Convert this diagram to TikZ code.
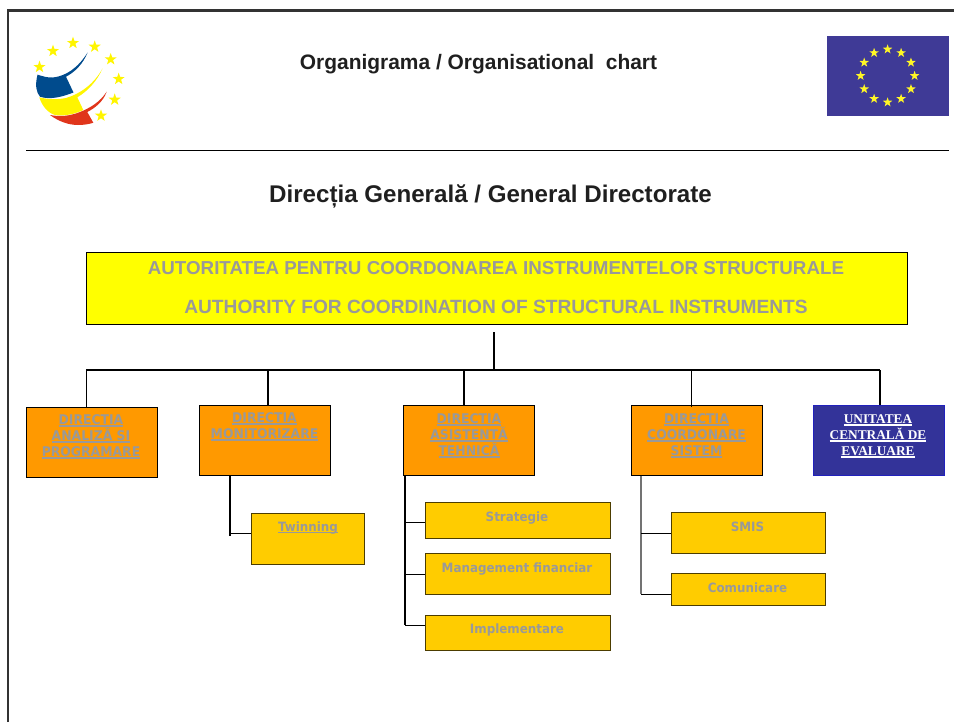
\documentclass[tikz,border=0pt]{standalone}
\usepackage{fontspec}
\setmainfont{Liberation Sans}
\newfontfamily\serifbold{Liberation Serif}
\newfontfamily\boxfont[FakeStretch=0.93]{DejaVu Sans}
\usetikzlibrary{shapes.geometric}
\definecolor{frameC}{HTML}{333333}
\definecolor{orangeC}{HTML}{FF9900}
\definecolor{goldC}{HTML}{FFCC00}
\definecolor{blueC}{HTML}{333399}
\definecolor{flagC}{HTML}{3F3A96}
\definecolor{grayT}{HTML}{999999}
\definecolor{logoB}{HTML}{004B8D}
\definecolor{logoY}{HTML}{FFF500}
\definecolor{logoR}{HTML}{E0351B}
\definecolor{pureY}{HTML}{FFFF00}
\newcommand{\ulbox}[1]{\setbox0\hbox{#1}\leavevmode\rlap{\rule[-1.8pt]{\wd0}{1.3pt}}\box0}
\tikzset{
  x=0.75pt,y=-0.75pt,
  orgbox/.style={draw=black,line width=0.75pt,inner sep=0pt,minimum width=98.5pt,minimum height=52.5pt},
  dirbox/.style={orgbox,fill=orangeC},
  subbox/.style={draw=black!70!goldC,line width=0.75pt,inner sep=0pt,fill=goldC},
  lbl/.style={inner sep=0pt,text=grayT,font=\boxfont\bfseries\fontsize{10pt}{12pt}\selectfont,align=center},
  sublbl/.style={inner sep=0pt,text=grayT,anchor=base,font=\boxfont\bfseries\fontsize{9.6pt}{12pt}\selectfont},
  toplbl/.style={inner sep=0pt,text=grayT,font=\bfseries\fontsize{#1}{16pt}\selectfont},
  heavy/.style={line width=1.5pt,black},
  light/.style={line width=0.7pt,black},
  ystar/.style={star,star points=5,star point ratio=2.5,fill=#1,inner sep=0pt,minimum size=9.5pt},
  fstar/.style={star,star points=5,star point ratio=2.5,fill=#1,inner sep=0pt,minimum size=7.5pt},
}
\begin{document}
\begin{tikzpicture}
\useasboundingbox (0,0) rectangle (954,722);
% frame
\draw[frameC,line width=2.2pt] (8,722) -- (8,10.5) -- (954,10.5);
\draw[black,line width=0.75pt] (26,150.5) -- (949,150.5);
% logo
\fill[logoB] (87.7,52.3) .. controls (78,68) and (66,76) .. (53,77.5) .. controls (48,78) and (42,76) .. (37.5,74.7)
  .. controls (35,85) and (36,92) .. (40,96.7) .. controls (50,100) and (62,97) .. (73.5,92.5) -- (66,76.7)
  .. controls (75,72) and (83,64) .. cycle;
\fill[logoY] (102.7,68.3) .. controls (94,84) and (80,94) .. (66,98) .. controls (56,100) and (46,99) .. (39.3,97.3)
  .. controls (42,106) and (48,113) .. (55,115) .. controls (64,116.5) and (75,114) .. (83.3,110) -- (77.3,97.3)
  .. controls (88,91) and (97,81) .. cycle;
\fill[logoR] (106.7,91.7) .. controls (100,102) and (90,108) .. (80,112) .. controls (70,116) and (60,117) .. (50,115)
  .. controls (58,121) and (68,125) .. (78,125) .. controls (84,125) and (90,124) .. (93.3,122.7) -- (87.3,112)
  .. controls (95,108) and (103,102) .. cycle;
\foreach \n/\p in {1/{39.5,67},2/{53,51},3/{73,43},4/{94.7,46.7},5/{110.7,59.3},6/{118.7,79},7/{114.7,99.7},8/{101,115.7}}
  \node[ystar=logoY] (logostar\n) at (\p) {};
% flag
\fill[flagC] (827,36) rectangle (949,116);
\foreach \n in {1,...,12}
  \node[fstar=logoY!85!white] (flagstar\n) at ({887.6+27*cos(30*\n)},{75.8+26.5*sin(30*\n)}) {};
% titles
\node[inner sep=0pt,text=black!88,font=\bfseries\fontsize{15.7pt}{18pt}\selectfont] (title1) at (478.5,64) {Organigrama / Organisational\ \ chart};
\node[inner sep=0pt,text=black!88,font=\bfseries\fontsize{18.1pt}{21pt}\selectfont] (title2) at (490.5,196) {Direcția Generală / General Directorate};
% main box
\node[draw=black,line width=0.75pt,fill=pureY,minimum width=616pt,minimum height=54pt,inner sep=0pt] (main) at (497,288) {};
\node[toplbl=14.07pt] (mainA) at (496,268) {AUTORITATEA PENTRU COORDONAREA INSTRUMENTELOR STRUCTURALE};
\node[toplbl=14.37pt] (mainB) at (496,307) {AUTHORITY FOR COORDINATION OF STRUCTURAL INSTRUMENTS};
% directorates
\node[dirbox] (dirA) at (92,442.5) {};
\node[dirbox] (dirB) at (264.75,440) {};
\node[dirbox] (dirC) at (469,440) {};
\node[dirbox] (dirD) at (697,440) {};
\node[orgbox,draw=blue!35!blueC,fill=blueC] (dirE) at (879,440) {};
\node[lbl] (dirAt) at (91,437) {\ulbox{DIRECȚIA}\\\ulbox{ANALIZĂ ȘI}\\\ulbox{PROGRAMARE}};
\node[lbl,anchor=north] (dirBt) at (264.5,412) {\ulbox{DIRECTIA}\\\ulbox{MONITORIZARE}};
\node[lbl] (dirCt) at (469,435.5) {\ulbox{DIRECȚIA}\\\ulbox{ASISTENȚĂ}\\\ulbox{TEHNICĂ}};
\node[lbl] (dirDt) at (696.5,435.5) {\ulbox{DIRECTIA}\\\ulbox{COORDONARE}\\\ulbox{SISTEM}};
\node[inner sep=0pt,text=white,align=center,font=\serifbold\bfseries\fontsize{10pt}{12pt}\selectfont] (dirEt) at (878,436) {\ulbox{UNITATEA}\\\ulbox{CENTRALĂ DE}\\\ulbox{EVALUARE}};
% sub boxes
\node[subbox,minimum width=85pt,minimum height=38.25pt] (twin) at (308.25,538.5) {};
\node[sublbl] (twint) at (308,531) {\ulbox{Twinning}};
\node[subbox,minimum width=138.75pt,minimum height=26.75pt] (strat) at (518,520.2) {};
\node[sublbl] (stratt) at (517,521) {Strategie};
\node[subbox,minimum width=138.75pt,minimum height=30.75pt] (mgmt) at (518,573.8) {};
\node[sublbl] (mgmtt) at (517,572) {Management financiar};
\node[subbox,minimum width=138.75pt,minimum height=26.75pt] (impl) at (518,632.9) {};
\node[sublbl] (implt) at (517,633) {Implementare};
\node[subbox,minimum width=115.75pt,minimum height=30.75pt] (smis) at (748.25,533) {};
\node[sublbl] (smist) at (747.5,531) {SMIS};
\node[subbox,minimum width=115.75pt,minimum height=23.75pt] (com) at (748.25,589.2) {};
\node[sublbl] (comt) at (747.5,592) {Comunicare};
% bus
\coordinate (stem) at (494,332);
\coordinate (bus) at (494,370);
\coordinate (busL) at (86,370);
\coordinate (busB) at (268,370);
\coordinate (busC) at (464,370);
\coordinate (busD) at (691,370);
\coordinate (busE) at (880,370);
\draw[heavy] (stem) -- (bus);
\draw[heavy] (busL) -- (busE);
\draw[light] (busL) -- (busL |- dirA.north);
\draw[heavy] (busB) -- (busB |- dirB.north);
\draw[heavy] (busC) -- (busC |- dirC.north);
\draw[light] (busD) -- ([yshift=-1.5pt]busD |- dirD.north);
\draw[heavy] (busE) -- (busE |- dirE.north);
% children of B
\coordinate (tB) at (230,536);
\coordinate (jB) at (230,533.5);
\draw[heavy] (tB |- dirB.south) -- (tB);
\draw[light] (jB) -- (jB -| twin.west);
% children of C
\coordinate (tC) at (405,625.3);
\coordinate (jC1) at (405,522.3);
\coordinate (jC2) at (405,574.3);
\draw[heavy] (tC |- dirC.south) -- (tC);
\draw[light] (jC1) -- (jC1 -| strat.west);
\draw[light] (jC2) -- (jC2 -| mgmt.west);
\draw[light] (tC) -- (tC -| impl.west);
% children of D
\coordinate (tD) at (641,594);
\coordinate (jD) at (641,533);
\draw[line width=0.9pt,black!55] (tD |- dirD.south) -- (tD);
\draw[light] (jD) -- (jD -| smis.west);
\draw[light] (tD) -- (tD -| com.west);
\end{tikzpicture}
\end{document}
